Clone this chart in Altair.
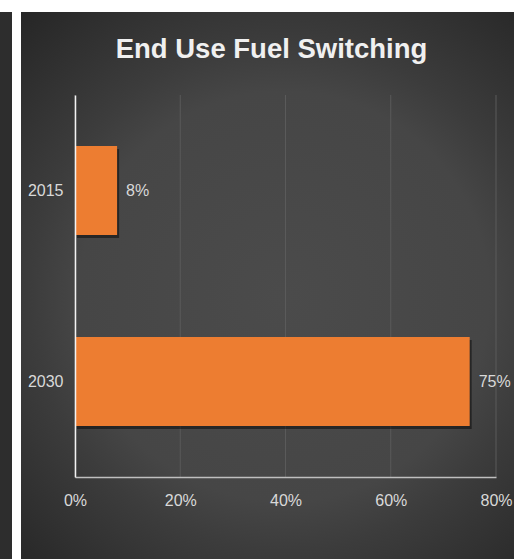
import altair as alt
import pandas as pd

# Share of end-use fuel switching by year
years = ["2015", "2030"]
shares = [0.08, 0.75]
x_ticks = [0.0, 0.2, 0.4, 0.6, 0.8]
chart_title = "End Use Fuel Switching"

df = pd.DataFrame({"year": years, "share": shares})
grid_df = pd.DataFrame({"v": x_ticks})
title_df = pd.DataFrame({"t": [chart_title]})
one = pd.DataFrame({"k": [0]})

FONT = "Liberation Sans, Arial, sans-serif"
FS = 16
ORANGE = "#ED7D31"
LABEL = "#d9d9d9"

W, H = 421, 382
PAD = {"left": 75, "top": 95, "right": 18, "bottom": 82}

x_scale = alt.Scale(domain=[0, 0.8], nice=False, zero=True)
y_scale = alt.Scale(domain=years, paddingInner=0.534, paddingOuter=0.267)

x_axis = alt.Axis(
    values=x_ticks, format=".0%", labelFont=FONT, labelFontSize=FS,
    labelColor=LABEL, labelPadding=15, ticks=False, labelFlush=False,
    labelOverlap=False, domainColor="#bfbfbf", domainWidth=1.5, grid=False,
    zindex=2,
)

# dark card with a soft radial glow behind the plot
glow = alt.RadialGradient(
    gradient="radial",
    x1=0.53, y1=0.52, r1=0,
    x2=0.53, y2=0.52, r2=0.75,
    stops=[
        alt.GradientStop(offset=0, color="#4b4b4b"),
        alt.GradientStop(offset=0.5, color="#464646"),
        alt.GradientStop(offset=0.62, color="#3c3c3c"),
        alt.GradientStop(offset=1, color="#222222"),
    ],
)
card = alt.Chart(one).mark_rect(color=glow).encode(
    x=alt.value(21 - PAD["left"]), x2=alt.value(514 - PAD["left"]),
    y=alt.value(12 - PAD["top"]), y2=alt.value(559 - PAD["top"]),
)
side_strip = alt.Chart(one).mark_rect(color="#2d2d2d").encode(
    x=alt.value(0 - PAD["left"]), x2=alt.value(12 - PAD["left"]),
    y=alt.value(12 - PAD["top"]), y2=alt.value(559 - PAD["top"]),
)

# vertical gridlines drawn over the card but beneath the bars
gridlines = alt.Chart(grid_df).mark_rule(color="#5a5a5a", strokeWidth=1).encode(
    x=alt.X("v:Q", scale=x_scale, title=None, axis=x_axis),
)

base = alt.Chart(df).encode(
    y=alt.Y(
        "year:N", scale=y_scale, title=None,
        axis=alt.Axis(
            labelFont=FONT, labelFontSize=FS, labelColor=LABEL, labelPadding=12,
            ticks=False, domainColor="#f2f2f2", domainWidth=1.5, grid=False,
            zindex=2,
        ),
    ),
)

shadow = base.mark_bar(
    color="#000000", opacity=0.45, xOffset=2, x2Offset=2, yOffset=3, y2Offset=3
).encode(x=alt.X("share:Q", scale=x_scale, title=None, axis=x_axis))

bars = base.mark_bar(color=ORANGE).encode(
    x=alt.X("share:Q", scale=x_scale, title=None, axis=x_axis),
)

value_labels = base.mark_text(
    align="left", baseline="middle", dx=9, font=FONT, fontSize=FS, color=LABEL
).encode(
    x=alt.X("share:Q", scale=x_scale, title=None, axis=x_axis),
    text=alt.Text("share:Q", format=".0%"),
)

title_text = alt.Chart(title_df).mark_text(
    font="Liberation Sans, Arial, sans-serif", fontSize=27.5, fontWeight="bold",
    color="#f0f0f0", align="center", baseline="alphabetic",
).encode(x=alt.value(271.5 - PAD["left"]), y=alt.value(57.5 - PAD["top"]), text="t:N")

chart = alt.layer(
    side_strip, card, gridlines, shadow, bars, value_labels, title_text
).properties(
    width=W, height=H, padding=PAD, autosize=alt.AutoSizeParams(type="none"),
    background="#ffffff",
).configure_view(stroke=None)

chart.save("out.html", embed_options={"renderer": "svg", "actions": False})
